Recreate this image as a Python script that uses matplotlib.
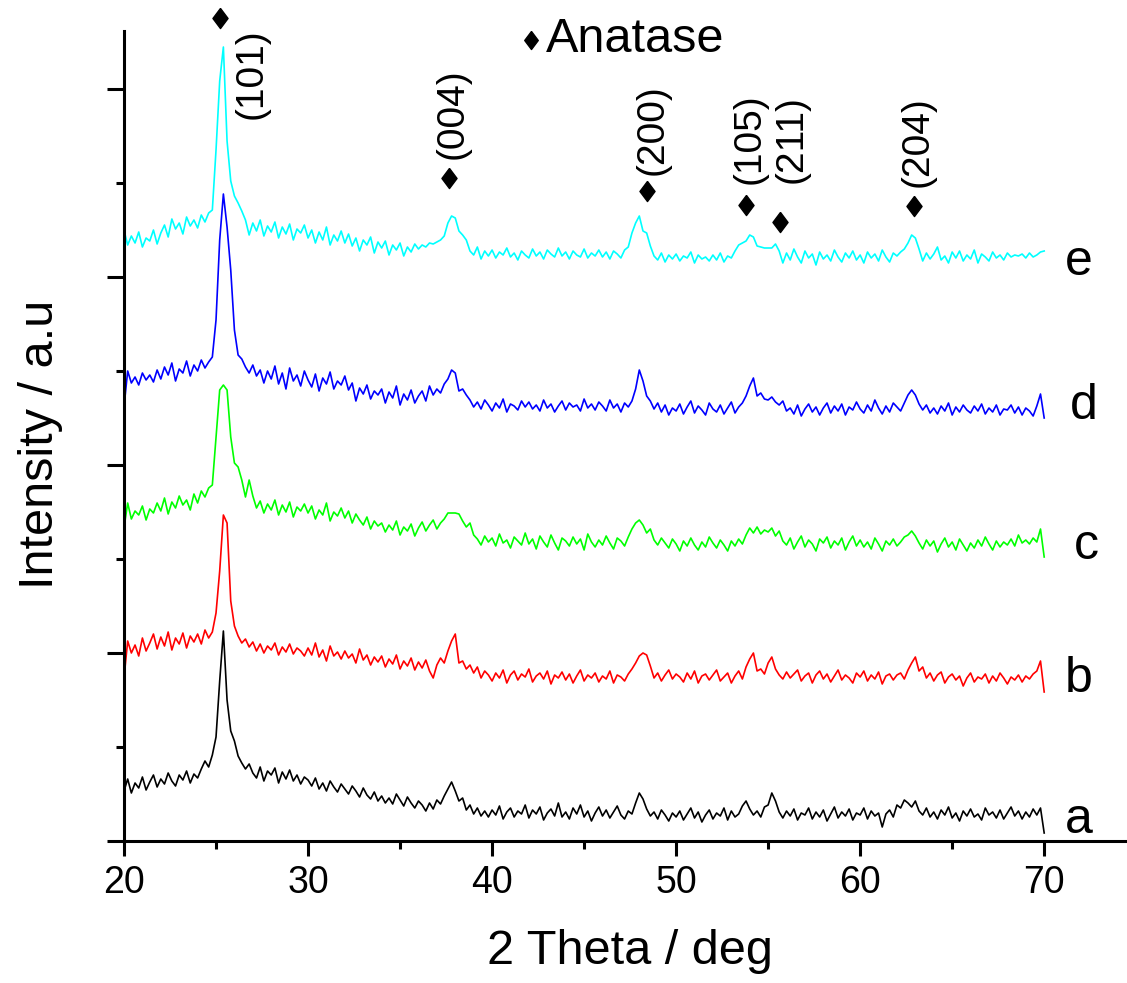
import matplotlib
matplotlib.use('Agg')
import numpy as np
import matplotlib.pyplot as plt
from matplotlib.ticker import MultipleLocator

plt.rcParams['font.family'] = ['Liberation Sans', 'DejaVu Sans']

# 2 theta grid, 20 to 70 deg in 0.2 deg steps
two_theta = np.round(np.arange(20.0, 70.01, 0.2), 1)

# intensities (a.u., already stacked)
sample_a = [
    50, 62, 48, 58, 53, 64, 51, 59, 66, 54,
    62, 57, 68, 60, 55, 66, 61, 70, 58, 67,
    63, 72, 80, 74, 86, 104, 160, 210, 141, 110,
    100, 85, 78, 72, 77, 68, 63, 74, 60, 70,
    66, 73, 58, 69, 62, 71, 60, 66, 57, 64,
    61, 55, 63, 52, 58, 50, 60, 54, 49, 57,
    52, 47, 55, 50, 44, 53, 46, 42, 49, 40,
    45, 38, 43, 37, 47, 41, 35, 44, 38, 33,
    40, 36, 30, 38, 32, 41, 37, 45, 52, 59,
    50, 40, 43, 31, 36, 27, 33, 25, 30, 24,
    31, 26, 35, 22, 29, 33, 24, 30, 27, 36,
    23, 31, 27, 34, 21, 28, 32, 25, 38, 24,
    29, 22, 33, 27, 36, 24, 30, 20, 28, 34,
    25, 31, 23, 29, 35, 26, 22, 30, 27, 38,
    48, 42, 32, 25, 29, 22, 31, 26, 20, 28,
    24, 30, 21, 27, 33, 23, 29, 19, 26, 31,
    22, 28, 25, 33, 21, 30, 24, 27, 35, 40,
    32, 26, 30, 24, 34, 36, 48, 40, 29, 23,
    30, 25, 32, 21, 28, 26, 33, 22, 29, 24,
    31, 20, 27, 34, 23, 29, 25, 32, 21, 28,
    26, 33, 22, 30, 25, 28, 14, 27, 31, 24,
    36, 33, 41, 38, 34, 40, 30, 26, 33, 24,
    29, 22, 31, 26, 34, 23, 28, 20, 30, 25,
    32, 24, 27, 21, 33, 26, 29, 23, 31, 22,
    28, 34, 25, 30, 22, 29, 24, 32, 26, 33,
    8,
]
sample_b = [
    163, 200, 188, 196, 185, 203, 190, 198, 207, 192,
    204, 195, 209, 191, 203, 197, 208, 193, 205, 199,
    207, 197, 211, 203, 209, 228, 270, 326, 318, 240,
    215, 205, 198, 202, 194, 199, 190, 197, 188, 195,
    191, 198, 186, 194, 189, 197, 187, 193, 190, 185,
    193, 186, 198, 184, 191, 180, 195, 185, 189, 182,
    190, 183, 187, 178, 192, 181, 186, 176, 184, 179,
    185, 174, 182, 177, 186, 172, 180, 175, 183, 171,
    179, 173, 181, 170, 163, 176, 183, 178, 190, 200,
    207, 178, 180, 172, 176, 168, 174, 163, 170, 166,
    160, 168, 163, 171, 158, 166, 170, 161, 167, 164,
    172, 159, 165, 168, 162, 170, 157, 166, 163, 169,
    161, 167, 158, 165, 171, 160, 166, 163, 168, 159,
    165, 162, 170, 158, 166, 164, 160, 167, 172, 178,
    185, 188, 186, 175, 163, 168, 160, 166, 171, 162,
    167, 164, 159, 168, 162, 170, 158, 165, 167, 161,
    166, 171, 160, 164, 168, 158, 165, 170, 162, 174,
    182, 188, 170, 172, 167, 178, 184, 172, 166, 162,
    169, 163, 167, 171, 160, 165, 168, 158, 166, 170,
    162, 167, 159, 165, 171, 161, 166, 163, 158, 168,
    164, 170, 160, 166, 162, 169, 157, 165, 167, 161,
    166, 168, 162, 171, 178, 184, 170, 174, 163, 168,
    160, 166, 169, 158, 164, 167, 161, 165, 155, 163,
    168, 159, 164, 162, 167, 158, 165, 160, 168, 163,
    157, 164, 161, 166, 159, 165, 162, 167, 170, 180,
    149,
]
sample_c = [
    313, 338, 322, 330, 326, 335, 321, 332, 328, 338,
    330, 343, 327, 339, 333, 345, 336, 341, 331, 347,
    338, 350, 344, 353, 356, 404, 451, 456, 451, 404,
    378, 374, 361, 344, 361, 345, 333, 340, 328, 337,
    331, 341, 326, 336, 329, 339, 324, 334, 330, 337,
    328, 335, 322, 331, 326, 338, 320, 329, 325, 333,
    323, 330, 318, 327, 321, 316, 324, 312, 320, 315,
    318, 309, 316, 311, 320, 306, 314, 310, 317, 305,
    313, 319, 310, 316, 321, 312, 318, 322, 328, 328,
    328, 327, 320, 314, 318, 306, 302, 296, 305, 299,
    303, 295, 307, 298, 301, 293, 304, 300, 296, 308,
    297, 302, 292, 305, 299, 294, 306, 298, 291, 303,
    300, 295, 304, 297, 302, 291, 307, 299, 294, 301,
    296, 305, 298, 292, 303, 300, 295, 304, 312, 318,
    321, 316, 308, 312, 301, 296, 303, 298, 293, 302,
    297, 290, 300, 295, 303, 296, 291, 299, 294, 304,
    298, 293, 301, 296, 290, 300, 295, 302, 297, 306,
    313, 308, 314, 307, 311, 309, 313, 305, 310, 300,
    296, 303, 292, 299, 305, 294, 301, 297, 290, 302,
    298, 304, 293, 300, 296, 303, 291, 299, 305, 295,
    301, 294, 299, 292, 303, 297, 290, 300, 296, 302,
    295, 299, 304, 306, 310, 305, 298, 292, 301, 295,
    300, 289, 297, 303, 294, 299, 291, 302, 296, 290,
    298, 293, 301, 295, 304, 297, 291, 300, 294, 299,
    296, 302, 295, 306, 298, 301, 297, 303, 299, 312,
    284,
]
sample_d = [
    434, 470, 458, 464, 456, 468, 461, 466, 459, 471,
    462, 474, 466, 478, 460, 472, 468, 480, 465, 476,
    470, 481, 473, 479, 484, 521, 601, 647, 614, 571,
    511, 486, 482, 474, 468, 476, 465, 471, 458, 470,
    462, 475, 457, 468, 452, 473, 460, 466, 455, 470,
    461, 454, 467, 450, 463, 457, 469, 452, 460, 456,
    465, 451, 458, 440, 453, 447, 456, 442, 450, 446,
    452, 438, 449, 443, 455, 436, 447, 441, 451, 438,
    445, 450, 440, 455, 446, 452, 448, 457, 462, 471,
    468, 450, 452, 446, 441, 434, 439, 432, 441, 436,
    430, 438, 433, 442, 429, 437, 435, 431, 440, 434,
    439, 432, 436, 430, 441, 433, 437, 429, 435, 440,
    431, 438, 434, 436, 430, 442, 433, 437, 431, 439,
    435, 430, 441, 433, 437, 429, 438, 434, 440, 452,
    471, 460, 445, 440, 432, 438, 429, 436, 426, 433,
    430, 437, 427, 434, 440, 428, 435, 431, 426, 438,
    432, 429, 436, 427, 433, 439, 428, 434, 438, 445,
    455, 463, 445, 448, 442, 441, 444, 439, 436, 440,
    430, 433, 427, 436, 425, 432, 437, 429, 434, 426,
    433, 438, 428, 435, 430, 437, 426, 434, 431, 439,
    432, 428, 436, 430, 441, 433, 427, 435, 429, 438,
    434, 430, 438, 446, 451, 446, 437, 431, 436, 428,
    433, 427, 435, 430, 438, 426, 434, 429, 436, 431,
    428, 435, 430, 437, 427, 433, 429, 436, 426, 432,
    431, 436, 428, 434, 426, 433, 430, 425, 435, 447,
    423,
]
sample_e = [
    611, 596, 605, 598, 609, 594, 603, 600, 611, 597,
    608, 616, 604, 622, 612, 618, 607, 624, 615, 621,
    613, 626, 619, 628, 631, 691, 760, 794, 700, 660,
    645, 638, 630, 621, 606, 618, 610, 621, 605, 615,
    609, 619, 603, 614, 607, 617, 601, 612, 608, 616,
    603, 611, 598, 609, 601, 614, 596, 606, 600, 610,
    598, 607, 595, 603, 590, 601, 596, 604, 588, 599,
    593, 600, 586, 596, 591, 598, 585, 594, 589, 597,
    592, 596, 594, 598, 597, 599, 601, 605, 618, 625,
    623, 610, 606, 601, 590, 586, 594, 582, 590, 585,
    591, 583, 589, 586, 593, 584, 588, 581, 590, 586,
    583, 592, 585, 589, 582, 591, 587, 584, 593, 585,
    589, 582, 590, 586, 584, 592, 583, 588, 585, 591,
    584, 589, 582, 590, 587, 583, 591, 594, 608, 618,
    625, 610, 608, 595, 585, 581, 588, 579, 586, 582,
    587, 580, 585, 583, 589, 578, 586, 582, 584, 580,
    586, 581, 588, 579, 585, 583, 590, 596, 598, 600,
    606, 604, 595, 594, 593, 593, 593, 597, 590, 578,
    588, 581, 592, 584, 578, 590, 583, 587, 576, 589,
    582, 586, 580, 591, 584, 579, 588, 583, 590, 581,
    586, 578, 589, 583, 587, 580, 591, 584, 579, 588,
    585, 589, 592, 598, 606, 603, 592, 580, 588, 582,
    587, 594, 581, 585, 578, 589, 583, 590, 580, 586,
    582, 591, 578, 587, 584, 580, 589, 583, 586, 581,
    588, 584, 586, 585, 587, 583, 588, 584, 586, 589,
    590,
]

series = [sample_a, sample_b, sample_c, sample_d, sample_e]
series_names = ['a', 'b', 'c', 'd', 'e']
colors = ['#000000', '#FF0000', '#00FF00', '#0000FF', '#00FFFF']

# anatase reflections
peak_pos = [25.22, 37.66, 48.42, 53.80, 55.65, 62.93]
peak_hkl = ['(101)', '(004)', '(200)', '(105)', '(211)', '(204)']

# layout (not data): marker heights, label positions
marker_y = [823, 663, 650, 636, 619, 635]
hkl_xy = [(26.96, 767), (37.83, 727), (48.70, 711), (54.02, 702),
          (56.25, 702), (63.15, 699)]
name_xy = [(71.1, 8), (71.1, 149), (71.6, 282), (71.4, 422), (71.1, 566)]

fig = plt.figure(figsize=(11.27, 9.83), dpi=100)
fig.patch.set_facecolor('white')
ax = fig.add_axes([124 / 1127, 142 / 983, 1003 / 1127, 810 / 983])

for y, c in zip(series, colors):
    ax.plot(two_theta, y, color=c, lw=1.2)

diamond = [(0, 1), (0.75, 0), (0, -1), (-0.75, 0), (0, 1)]
for x, my, (tx, ty), lab in zip(peak_pos, marker_y, hkl_xy, peak_hkl):
    ax.plot([x], [my], marker=diamond, ms=14.5, color='black',
            clip_on=False, ls='none')
    ax.text(tx, ty, lab, rotation=90, ha='center', va='center',
            fontsize=28, clip_on=False)

# "Anatase" key
ax.plot([42.12], [801], marker=diamond, ms=13, color='black',
        clip_on=False, ls='none')
ax.text(42.95, 789, 'Anatase', fontsize=35, ha='left', va='baseline',
        clip_on=False)

for (nx, ny), name in zip(name_xy, series_names):
    ax.text(nx, ny, name, fontsize=36, ha='left', va='baseline')

ax.set_xlim(20, 74.5)
ax.set_ylim(0, 810)
ax.xaxis.set_major_locator(MultipleLocator(10))
ax.xaxis.set_minor_locator(MultipleLocator(5))
ax.yaxis.set_major_locator(MultipleLocator(188))
ax.yaxis.set_minor_locator(MultipleLocator(94))
ax.set_yticklabels([])
ax.set_xticks([20, 30, 40, 50, 60, 70])
ax.set_xticklabels(['20', '30', '40', '50', '60', '70'])

for side in ['top', 'right']:
    ax.spines[side].set_visible(False)
for side in ['left', 'bottom']:
    ax.spines[side].set_linewidth(2.2)

ax.tick_params(axis='both', which='major', direction='out', length=11,
               width=2.2, labelsize=27, pad=6)
ax.tick_params(axis='both', which='minor', direction='out', length=6,
               width=2.2)
ax.tick_params(axis='y', which='major', length=12)

ax.set_xlabel('2 Theta / deg', fontsize=35)
ax.set_ylabel('Intensity / a.u', fontsize=35)
ax.xaxis.set_label_coords(0.5045, -0.1086)
ax.yaxis.set_label_coords(-0.061, 0.49)

fig.savefig('out.png', dpi=100, facecolor='white')
